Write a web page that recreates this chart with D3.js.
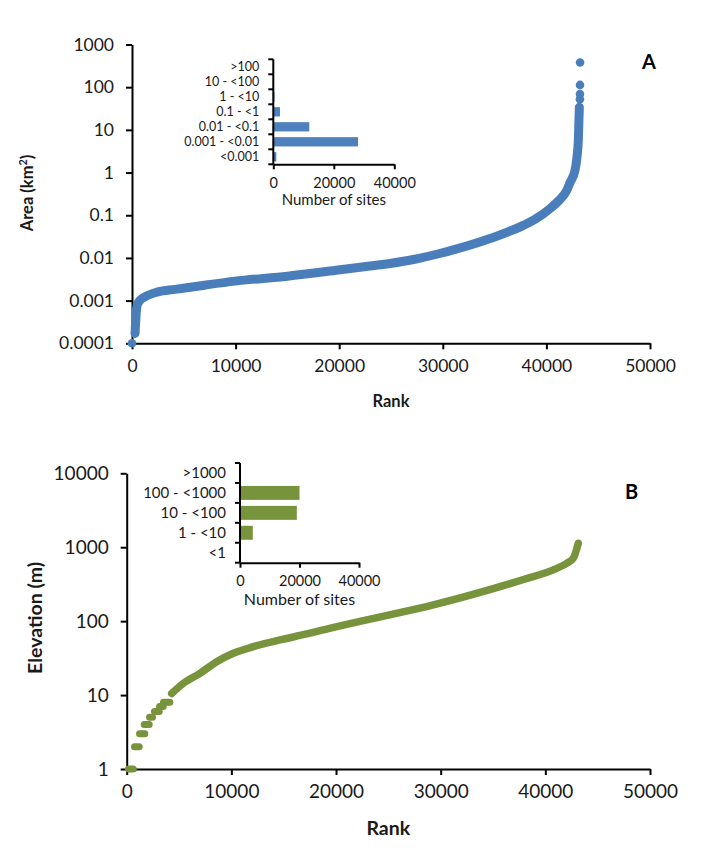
<!DOCTYPE html>
<html><head><meta charset="utf-8">
<script src="https://cdn.jsdelivr.net/npm/d3@7"></script>
<style>
html,body{margin:0;padding:0;background:#fff;}
svg{display:block;font-family:Lato,"Open Sans",sans-serif;}
</style></head>
<body><svg id="c" width="715" height="861"></svg>
<script>
// ---------- Panel A data (area by rank) ----------
const areaRank = [290, 330, 380, 430, 500, 800, 1250, 2500, 4150, 7000, 9940, 15000, 19900, 22400, 24900, 27300, 29700, 34560, 37770, 39000, 40350, 41200, 41960, 42300, 42760, 42950, 43080, 43180];
const areaVal  = [0.00017, 0.00025, 0.0004, 0.0006, 0.00078, 0.00103, 0.00123, 0.0016, 0.00183, 0.0023, 0.00286, 0.00373, 0.0052, 0.0062, 0.0074, 0.0093, 0.0127, 0.0284, 0.058, 0.083, 0.143, 0.22, 0.38, 0.6, 1.12, 2.3, 5.6, 34];
const areaDotRank = [0, 43235, 43240, 43245, 43250];
const areaDotVal  = [0.0001, 52, 69, 113, 380];
const areaTicks = [0.0001, 0.001, 0.01, 0.1, 1, 10, 100, 1000];
const areaTickLabels = ["0.0001", "0.001", "0.01", "0.1", "1", "10", "100", "1000"];
const areaCats = [">100", "10 - <100", "1 - <10", "0.1 - <1", "0.01 - <0.1", "0.001 - <0.01", "<0.001"];
const areaCounts = [5, 30, 400, 2200, 11900, 28000, 1000];

// ---------- Panel B data (elevation by rank) ----------
const elevStepVal   = [1, 2, 3, 4, 5, 6, 7, 8];
const elevStepStart = [170, 745, 1225, 1670, 2180, 2655, 3135, 3515];
const elevStepEnd   = [620, 1195, 1730, 2150, 2465, 3105, 3490, 4120];
const elevRank = [4300, 5410, 7000, 8600, 10190, 12100, 14650, 17200, 18470, 22930, 29300, 35670, 38000, 40760, 42040, 42670, 43150];
const elevVal  = [10.5, 14.4, 19.7, 28.3, 36.8, 45.2, 55.7, 67.1, 74.3, 104, 166, 293, 369, 493, 607, 710, 1133];
const elevTicks = [1, 10, 100, 1000, 10000];
const elevCats = [">1000", "100 - <1000", "10 - <100", "1 - <10", "<1"];
const elevCounts = [150, 20000, 19100, 4300, 0];

const rankTicks = [0, 10000, 20000, 30000, 40000, 50000];
const siteTicks = [0, 20000, 40000];

const blue = "#4A7EBB", green = "#77933C";
const svg = d3.select("#c");

function styleAxis(g, fs){
  g.selectAll(".domain").attr("stroke","#000").attr("stroke-width",2);
  g.selectAll(".tick line").attr("stroke","#000").attr("stroke-width",2);
  g.selectAll(".tick text").attr("fill","#1a1a1a").style("font-size",fs+"px").style("font-family","Lato");
}

function panel(o){
  const x = d3.scaleLinear([0,50000],[o.x0,o.x1]);
  const y = d3.scaleLog([o.yMin,o.yMax],[o.yb,o.yt]);
  const gx = svg.append("g").attr("transform",`translate(0,${o.yb})`)
    .call(d3.axisBottom(x).tickValues(rankTicks).tickFormat(d3.format("d")).tickSize(6).tickSizeOuter(0).tickPadding(10));
  styleAxis(gx,o.fs);
  const gy = svg.append("g").attr("transform",`translate(${o.x0},0)`)
    .call(d3.axisLeft(y).tickValues(o.ticks).tickFormat((d,i)=>o.tickLabels[i]).tickSize(6).tickSizeOuter(0).tickPadding(12));
  styleAxis(gy,o.fs);
  svg.append("text").attr("x",(o.x0+o.x1)/2).attr("y",o.rankY).attr("text-anchor","middle")
    .attr("font-weight","bold").style("font-size",o.tfs+"px").attr("fill","#1a1a1a").text("Rank");
  const yt = svg.append("text").attr("transform",`translate(${o.ytX},${o.ytY}) rotate(-90)`)
    .attr("text-anchor","middle").attr("font-weight","bold").style("font-size",o.tfs+"px").attr("fill","#1a1a1a");
  if(o.sup){ yt.append("tspan").text("Area (km"); yt.append("tspan").attr("dy",-6).style("font-size",(o.tfs*0.65)+"px").text("2"); yt.append("tspan").attr("dy",6).text(")"); }
  else yt.text(o.ytitle);
  svg.append("text").attr("x",o.lx).attr("y",o.ly).attr("font-weight","bold").style("font-size","20px").attr("fill","#000").text(o.letter);
  return {x,y};
}

// ---------------- Panel A ----------------
const A = panel({x0:132,x1:650,yb:343.3,yt:44.5,yMin:0.0001,yMax:1000,ticks:areaTicks,tickLabels:areaTickLabels,
  fs:17.5,tfs:16.5,rankY:407,ytX:33,ytY:193,sup:true,lx:642,ly:69,letter:"A"});
const lineA = d3.line().x((d,i)=>A.x(areaRank[i])).y((d,i)=>A.y(areaVal[i])).curve(d3.curveMonotoneX);
svg.append("path").attr("d",lineA(areaRank)).attr("fill","none").attr("stroke",blue)
  .attr("stroke-width",9).attr("stroke-linecap","round").attr("stroke-linejoin","round");
svg.append("g").selectAll("circle").data(areaDotRank).join("circle")
  .attr("cx",(d)=>A.x(d)).attr("cy",(d,i)=>A.y(areaDotVal[i])).attr("r",4.3).attr("fill",blue);

// ---------------- Panel B ----------------
const B = panel({x0:126.7,x1:650,yb:769,yt:473.3,yMin:1,yMax:10000,ticks:elevTicks,tickLabels:elevTicks.map(String),
  fs:19,tfs:19.5,rankY:835,ytX:42,ytY:618,sup:false,ytitle:"Elevation (m)",lx:625,ly:499,letter:"B"});
svg.append("g").selectAll("line").data(elevStepVal).join("line")
  .attr("x1",(d,i)=>B.x(elevStepStart[i])).attr("x2",(d,i)=>B.x(elevStepEnd[i]))
  .attr("y1",d=>B.y(d)).attr("y2",d=>B.y(d))
  .attr("stroke",green).attr("stroke-width",7).attr("stroke-linecap","round");
const lineB = d3.line().x((d,i)=>B.x(elevRank[i])).y((d,i)=>B.y(elevVal[i])).curve(d3.curveMonotoneX);
svg.append("path").attr("d",lineB(elevRank)).attr("fill","none").attr("stroke",green)
  .attr("stroke-width",7.5).attr("stroke-linecap","round").attr("stroke-linejoin","round");

// ---------------- Insets ----------------
function inset(o){
  const x = d3.scaleLinear([0,40000],[o.x0,o.x1]);
  const yb = d3.scaleBand(o.cats,[o.yt,o.yb]).paddingInner(o.pad).paddingOuter(o.pad/2);
  const g = svg.append("g");
  g.selectAll("rect").data(o.cats).join("rect")
    .attr("x",x(0)).attr("y",d=>yb(d)).attr("height",yb.bandwidth())
    .attr("width",(d,i)=>x(o.counts[i])-x(0)).attr("fill",o.color);
  const step = yb.step();
  const bounds = d3.range(o.cats.length+1).map(i=>o.yt+i*step);
  g.append("line").attr("x1",o.x0).attr("x2",o.x0).attr("y1",o.yt).attr("y2",o.yb).attr("stroke","#000").attr("stroke-width",2);
  g.selectAll(".bt").data(bounds).join("line").attr("class","bt")
    .attr("x1",o.x0-5).attr("x2",o.x0).attr("y1",d=>d).attr("y2",d=>d).attr("stroke","#000").attr("stroke-width",2);
  g.selectAll(".cl").data(o.cats).join("text").attr("class","cl")
    .attr("x",o.x0-o.gap).attr("y",d=>yb(d)+yb.bandwidth()/2).attr("dy","0.35em").attr("text-anchor","end")
    .style("font-size",o.cfs+"px").attr("fill","#1a1a1a").text(d=>d);
  const gx = svg.append("g").attr("transform",`translate(0,${o.yb})`)
    .call(d3.axisBottom(x).tickValues(siteTicks).tickFormat(d3.format("d")).tickSize(5).tickSizeOuter(0).tickPadding(8));
  styleAxis(gx,o.tfs);
  svg.append("text").attr("x",(o.x0+o.x1)/2).attr("y",o.titleY).attr("text-anchor","middle")
    .style("font-size",o.tifs+"px").attr("fill","#1a1a1a").text("Number of sites");
}
inset({x0:273.3,x1:394.3,yt:59.3,yb:164.3,cats:areaCats,counts:areaCounts,pad:0.38,color:"#4F81BD",gap:14,cfs:12.5,tfs:14.5,tifs:15,titleY:205});
inset({x0:240,x1:359,yt:463,yb:562.7,cats:elevCats,counts:elevCounts,pad:0.3,color:"#77933C",gap:14,cfs:15,tfs:14.5,tifs:16,titleY:605});
</script></body></html>
